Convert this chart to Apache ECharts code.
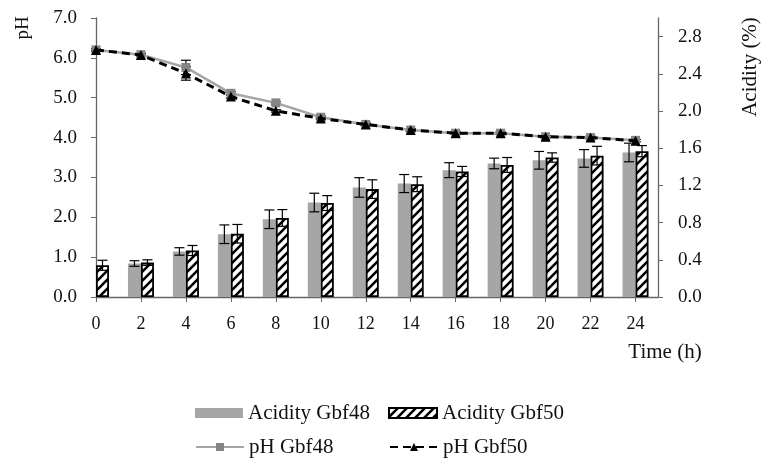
<!DOCTYPE html>
<html><head><meta charset="utf-8">
<script src="https://cdn.jsdelivr.net/npm/echarts@6/dist/echarts.min.js"></script>
<style>html,body{margin:0;padding:0;background:#fff}#c{width:764px;height:458px}</style>
</head><body><div id="c"></div>
<script>
// ---- data ----
const times = [0, 2, 4, 6, 8, 10, 12, 14, 16, 18, 20, 22, 24];
const xTicks = [0, 2, 4, 6, 8, 10, 12, 14, 16, 18, 20, 22, 24];
const phTicks = [0, 1, 2, 3, 4, 5, 6, 7];
const acidTicks = [0, 0.4, 0.8, 1.2, 1.6, 2.0, 2.4, 2.8];
const acidGbf48 = [null, 0.36, 0.49, 0.675, 0.836, 1.016, 1.178, 1.22, 1.364, 1.436, 1.47, 1.49, 1.554];
const acidGbf48Err = [null, 0.03, 0.04, 0.10, 0.10, 0.10, 0.105, 0.097, 0.08, 0.057, 0.095, 0.095, 0.10];
const acidGbf50 = [0.341, 0.37, 0.50, 0.68, 0.85, 1.01, 1.16, 1.213, 1.35, 1.42, 1.50, 1.52, 1.568];
const acidGbf50Err = [0.054, 0.03, 0.054, 0.10, 0.09, 0.08, 0.10, 0.08, 0.054, 0.08, 0.05, 0.10, 0.06];
const phGbf48 = [6.2, 6.08, 5.76, 5.11, 4.87, 4.51, 4.33, 4.19, 4.11, 4.11, 4.02, 4.0, 3.93];
const phGbf48Err = [0.03, 0.03, 0.18, 0.04, 0.03, 0.03, 0.03, 0.03, 0.03, 0.03, 0.03, 0.03, 0.03];
const phGbf50 = [6.2, 6.07, 5.61, 5.03, 4.67, 4.48, 4.33, 4.19, 4.11, 4.11, 4.02, 4.0, 3.92];
const phGbf50Err = [0.03, 0.03, 0.17, 0.04, 0.03, 0.03, 0.03, 0.03, 0.03, 0.03, 0.03, 0.03, 0.03];

// ---- styling helpers ----
const FONT = 'Liberation Serif';
const TXT = '#111';
const AXIS = '#666';

function hatch() {
  const s = 9, cv = document.createElement('canvas');
  cv.width = s; cv.height = s;
  const g = cv.getContext('2d');
  g.fillStyle = '#fff'; g.fillRect(0, 0, s, s);
  g.strokeStyle = '#000'; g.lineWidth = 2.6;
  g.beginPath();
  g.moveTo(0, s); g.lineTo(s, 0);
  g.moveTo(-s / 2, s / 2); g.lineTo(s / 2, -s / 2);
  g.moveTo(s / 2, s * 1.5); g.lineTo(s * 1.5, s / 2);
  g.stroke();
  return { image: cv, repeat: 'repeat' };
}

function pairs(vals) { return times.map((t, i) => [t, vals[i]]); }
function errSeries(vals, errs, yIdx, off) {
  return {
    type: 'custom', yAxisIndex: yIdx, z: 5, silent: true,
    data: times.map((t, i) => [t, vals[i] == null ? 0 : vals[i], errs[i] == null ? 0 : errs[i], (errs[i] == null || vals[i] == null) ? 0 : 1]),
    renderItem: function (params, api) {
      if (!api.value(3)) return null;
      const x = api.value(0), y = api.value(1), e = api.value(2);
      const top = api.coord([x, y + e]), bot = api.coord([x, y - e]);
      const cx = top[0] + off, hw = 5;
      const st = { stroke: '#000', lineWidth: 1.2 };
      return { type: 'group', children: [
        { type: 'line', shape: { x1: cx, y1: top[1], x2: cx, y2: bot[1] }, style: st },
        { type: 'line', shape: { x1: cx - hw, y1: top[1], x2: cx + hw, y2: top[1] }, style: st },
        { type: 'line', shape: { x1: cx - hw, y1: bot[1], x2: cx + hw, y2: bot[1] }, style: st }
      ] };
    }
  };
}

const chart = echarts.init(document.getElementById('c'));
const legendText = { fontFamily: FONT, fontSize: 21, color: TXT, width: 122, lineHeight: 24 };
chart.setOption({
  animation: false,
  grid: { left: 96, right: 106, top: 18, bottom: 161 },
  xAxis: {
    type: 'value', min: 0, max: 25, interval: 2,
    splitLine: { show: false },
    axisLine: { lineStyle: { color: AXIS, width: 1.3 } },
    axisTick: { length: 5, lineStyle: { color: AXIS }, customValues: xTicks },
    axisLabel: { customValues: xTicks, fontFamily: FONT, fontSize: 18, color: TXT, margin: 18 }
  },
  yAxis: [
    {
      type: 'value', min: 0, max: 7, interval: 1,
      splitLine: { show: false },
      axisLine: { show: true, lineStyle: { color: AXIS, width: 1.3 } },
      axisTick: { show: true, length: 5, lineStyle: { color: AXIS }, customValues: phTicks },
      axisLabel: { customValues: phTicks, fontFamily: FONT, fontSize: 19, color: TXT, margin: 19,
        formatter: v => v.toFixed(1) }
    },
    {
      type: 'value', min: 0, max: 3, interval: 0.4, position: 'right',
      splitLine: { show: false },
      axisLine: { show: true, lineStyle: { color: AXIS, width: 1.3 } },
      axisTick: { show: true, length: 5, lineStyle: { color: AXIS }, customValues: acidTicks },
      axisLabel: { customValues: acidTicks, fontFamily: FONT, fontSize: 19, color: TXT, margin: 20,
        formatter: v => v.toFixed(1) }
    }
  ],
  legend: [
    { left: 190, top: 396, itemWidth: 48, itemHeight: 10, itemGap: 18, textStyle: legendText,
      data: [{ name: 'Acidity Gbf48', icon: 'rect' }, { name: 'Acidity Gbf50', icon: 'rect' }] },
    { left: 190, top: 430, itemWidth: 48, itemHeight: 10, itemGap: 18, textStyle: legendText,
      data: ['pH Gbf48', 'pH Gbf50'] }
  ],
  graphic: [
    { type: 'text', x: 23, y: 28, rotation: Math.PI / 2,
      style: { text: 'pH', font: '19px "Liberation Serif"', fill: TXT, align: 'center', verticalAlign: 'middle' } },
    { type: 'text', x: 750, y: 67, rotation: Math.PI / 2,
      style: { text: 'Acidity (%)', font: '21px "Liberation Serif"', fill: TXT, align: 'center', verticalAlign: 'middle' } },
    { type: 'text', x: 665, y: 352,
      style: { text: 'Time (h)', font: '21px "Liberation Serif"', fill: TXT, align: 'center', verticalAlign: 'middle' } }
  ],
  series: [
    { name: 'Acidity Gbf48', type: 'bar', yAxisIndex: 1, barWidth: 13, barGap: '0%',
      itemStyle: { color: '#a6a6a6' }, data: pairs(acidGbf48) },
    { name: 'Acidity Gbf50', type: 'bar', yAxisIndex: 1, barWidth: 13, barGap: '0%',
      itemStyle: { color: hatch(), borderColor: '#000', borderWidth: 1.8 }, data: pairs(acidGbf50) },
    errSeries(acidGbf48, acidGbf48Err, 1, -6.5),
    errSeries(acidGbf50, acidGbf50Err, 1, 6.5),
    { name: 'pH Gbf48', type: 'line', yAxisIndex: 0, z: 6, symbol: 'rect', symbolSize: 9,
      lineStyle: { color: '#a6a6a6', width: 2.5 }, itemStyle: { color: '#858585' }, data: pairs(phGbf48) },
    { name: 'pH Gbf50', type: 'line', yAxisIndex: 0, z: 7, symbol: 'triangle', symbolSize: 10,
      lineStyle: { color: '#000', width: 3, type: [8, 5] }, itemStyle: { color: '#000' }, data: pairs(phGbf50) },
    errSeries(phGbf48, phGbf48Err, 0, 0),
    errSeries(phGbf50, phGbf50Err, 0, 0)
  ]
});
</script></body></html>
